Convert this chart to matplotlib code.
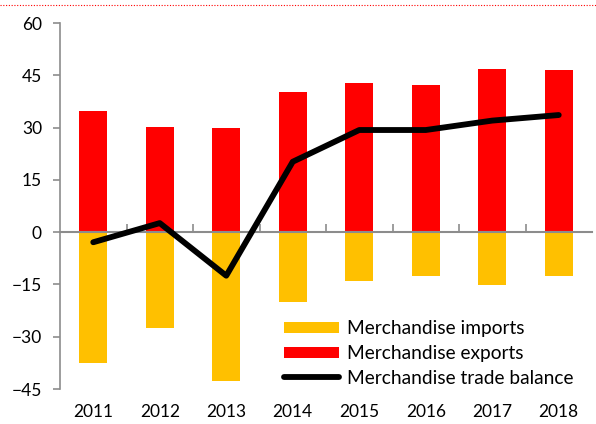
import matplotlib.pyplot as plt
import numpy as np
from matplotlib.lines import Line2D

years = ['2011', '2012', '2013', '2014', '2015', '2016', '2017', '2018']
exports = [34.8, 30.1, 30.0, 40.3, 42.9, 42.1, 46.7, 46.4]
imports = [-37.6, -27.5, -42.8, -19.9, -13.9, -12.7, -15.2, -12.7]
balance = [-2.9, 2.6, -12.5, 20.2, 29.3, 29.3, 32.0, 33.6]

plt.rcParams['font.family'] = ['Lato', 'DejaVu Sans']

fig = plt.figure(figsize=(5.96, 4.24), dpi=100)
ax = fig.add_axes([60/596, 1-389/424, 532/596, 366/424])

x = np.arange(len(years))
b_imp = ax.bar(x, imports, width=0.42, color='#FFC000', label='Merchandise imports', zorder=2)
b_exp = ax.bar(x, exports, width=0.42, color='#FF0000', label='Merchandise exports', zorder=2)
l_bal, = ax.plot(x, balance, color='black', lw=4.2, solid_capstyle='round', solid_joinstyle='round',
                 label='Merchandise trade balance', zorder=3)

ax.set_xlim(-0.5, len(years) - 0.5)
ax.set_ylim(-45, 60)
ax.set_yticks(np.arange(-45, 61, 15))

gray = '#8c8c8c'
for s in ['top', 'right']:
    ax.spines[s].set_visible(False)
ax.spines['left'].set_color(gray)
ax.spines['left'].set_linewidth(1.2)
ax.spines['bottom'].set_position(('data', 0))
ax.spines['bottom'].set_color(gray)
ax.spines['bottom'].set_linewidth(1.5)
ax.spines['bottom'].set_zorder(2.5)

ax.tick_params(axis='y', direction='out', length=5, color=gray, width=1.2, labelsize=12.5, pad=8)
ax.set_xticks(x)
ax.set_xticklabels(years)
ax.tick_params(axis='x', which='major', length=0, labelsize=12.5, pad=124)
ax.set_xticks(np.arange(0.5, len(years) - 0.5, 1), minor=True)
ax.tick_params(axis='x', which='minor', direction='in', length=6, color=gray, width=1.2)

ax.legend(handles=[b_imp, b_exp, l_bal], loc='lower right', bbox_to_anchor=(0.99, -0.03),
          frameon=False, fontsize=13.8, handlelength=2.9, handleheight=0.5,
          handletextpad=0.4, labelspacing=0.4, borderaxespad=0.3)

fig.add_artist(Line2D([0, 1], [1-5/424, 1-5/424], transform=fig.transFigure,
                      color='#ff0000', lw=0.8, ls=(0, (1, 1.5))))

fig.savefig('out.png', dpi=100)
